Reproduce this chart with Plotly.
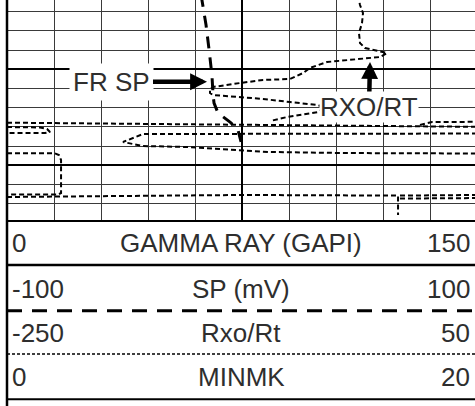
import plotly.graph_objects as go

# ---------------- data (depth in ft, curve values in track units) ----------------
sp_depth = [4002.26, 4003.30, 4005.39, 4007.99, 4010.59, 4012.68, 4013.51, 4014.55, 4015.49, 4016.32, 4017.57]
sp_mv = [-17.4, -16.6, -15.3, -14.0, -12.8, -12.3, -11.9, -10.2, -5.1, -1.7, -0.4]

rxo_depth = [4002.26, 4003.30, 4004.14, 4005.18, 4006.22, 4007.26, 4007.78, 4008.09, 4008.30, 4008.72,
             4008.93, 4009.24, 4009.86, 4010.39, 4011.01, 4011.11, 4011.43, 4011.84, 4012.05, 4012.47,
             4012.68, 4012.89, 4013.09, 4013.41, 4013.72, 4014.03, 4014.45, 4014.97, 4015.39, None,
             4015.56, 4015.80, 4015.99, None,
             4015.80, 4015.49, 4015.47, None,
             4016.01, 4016.06, 4016.22, 4016.53, 4016.64, 4016.64, None,
             4016.69, 4016.74, 4016.74, 4017.57, 4017.99, 4018.09, 4018.41, 4018.61, 4018.72, 4018.77]
rxo_ratio = [-25.96, -24.68, -22.77, -23.40, -25.32, -24.68, -21.49, -13.19, -7.45, -11.91,
             -26.60, -45.74, -56.60, -61.06, -69.36, -86.60, -101.28, -118.51, -120.43, -120.43,
             -118.51, -103.19, -86.60, -69.36, -51.49, -47.02, -51.49, -71.28, -82.13, None,
             -250.0, -101.28, 50.0, None,
             13.62, 21.28, 50.0, None,
             -250.0, -228.94, -224.47, -222.55, -225.74, -250.0, None,
             50.0, -101.28, -163.19, -175.96, -163.19, -135.11, -101.28, -83.40, -34.26, 50.0]

minmk_depth = [4018.75, 4018.75, 4018.93, 4019.45, 4022.89, 4023.04, 4023.04, None,
               4023.30, 4023.30, 4023.25, 4023.09, 4023.15, 4023.61, 4025.18, None,
               4023.09, 4023.15, None,
               4023.41, 4023.46]
minmk_val = [0.0, 2.04, 2.21, 2.30, 2.30, 2.17, 0.0, None,
             0.0, 2.26, 2.34, 9.91, 16.64, 16.64, 16.64, None,
             20.0, 16.72, None,
             20.0, 16.72]

track_names = ["GAMMA RAY (GAPI)", "SP (mV)", "Rxo/Rt", "MINMK"]
track_left = ["0", "-100", "-250", "0"]
track_right = ["150", "100", "50", "20"]
sp_scale = (-100, 100)
rxo_scale = (-250, 50)
minmk_scale = (0, 20)
depth_top, depth_bottom = 4002.78, 4025.80

# ---------------- layout geometry ----------------
W, H = 475, 406
X0 = 7            # left edge of track (px)
DIV = 47          # px per grid division
NDIV = 10
GRID_BOTTOM = 221
frac = (W - X0) / (NDIV * DIV)   # visible part of the track


def rng(lo, hi):
    return [lo, lo + (hi - lo) * frac]


def py(px):
    return 1 - px / H


def pxx(px):
    return px / W


FONT = dict(family="Liberation Sans, Arial, sans-serif", size=26, color="#2e2e2e")

fig = go.Figure()
fig.add_trace(go.Scatter(x=sp_mv, y=sp_depth, xaxis="x2", yaxis="y", mode="lines",
                         line=dict(color="black", width=3, dash="12px,9px"), name="SP"))
fig.add_trace(go.Scatter(x=rxo_ratio, y=rxo_depth, xaxis="x3", yaxis="y", mode="lines",
                         line=dict(color="black", width=2, dash="5px,3px"), name="Rxo/Rt",
                         connectgaps=False))
fig.add_trace(go.Scatter(x=minmk_val, y=minmk_depth, xaxis="x4", yaxis="y", mode="lines",
                         line=dict(color="black", width=2, dash="5px,3px"), name="MINMK",
                         connectgaps=False))

dom_x = [pxx(X0), 1]
dom_y = [py(GRID_BOTTOM), 1]
hidden = dict(visible=False, overlaying="x", domain=dom_x, anchor="y")

fig.update_layout(
    width=W, height=H, margin=dict(l=0, r=0, t=0, b=0),
    paper_bgcolor="white", plot_bgcolor="white", showlegend=False,
    xaxis=dict(domain=dom_x, range=rng(0, NDIV), tick0=0, dtick=5,
               showgrid=True, gridcolor="black", gridwidth=2,
               minor=dict(dtick=1, showgrid=True, gridcolor="#3a3a3a", gridwidth=1),
               showticklabels=False, ticks="", zeroline=False, showline=False),
    xaxis2=dict(range=rng(*sp_scale), **hidden),
    xaxis3=dict(range=rng(*rxo_scale), **hidden),
    xaxis4=dict(range=rng(*minmk_scale), **hidden),
    yaxis=dict(domain=dom_y, range=[depth_bottom, depth_top], tick0=4000, dtick=10,
               showgrid=True, gridcolor="black", gridwidth=2,
               minor=dict(dtick=2, showgrid=True, gridcolor="#3a3a3a", gridwidth=1),
               showticklabels=False, ticks="", zeroline=False, showline=False),
)

shapes = [
    dict(type="line", xref="paper", yref="paper", x0=pxx(X0), x1=pxx(X0), y0=0, y1=1,
         line=dict(color="black", width=2.5)),
    dict(type="line", xref="paper", yref="paper", x0=pxx(X0), x1=1, y0=py(GRID_BOTTOM), y1=py(GRID_BOTTOM),
         line=dict(color="black", width=2)),
    dict(type="line", xref="paper", yref="paper", x0=pxx(X0), x1=1, y0=py(265), y1=py(265),
         line=dict(color="black", width=2.5)),
    dict(type="line", xref="paper", yref="paper", x0=pxx(X0), x1=1, y0=py(310.7), y1=py(310.7),
         line=dict(color="black", width=3, dash="15px,10px")),
    dict(type="line", xref="paper", yref="paper", x0=pxx(X0), x1=1, y0=py(354), y1=py(354),
         line=dict(color="black", width=1.5, dash="3px,2px")),
    dict(type="line", xref="paper", yref="paper", x0=pxx(X0), x1=1, y0=py(399.3), y1=py(399.3),
         line=dict(color="black", width=2)),
]
fig.update_layout(shapes=shapes)

ann = []
row_y = [243, 289, 333, 377]
for name, lo, hi, yy in zip(track_names, track_left, track_right, row_y):
    ann.append(dict(xref="paper", yref="paper", x=pxx(10), y=py(yy), text=lo, showarrow=False,
                    xanchor="left", yanchor="middle", font=FONT))
    ann.append(dict(xref="paper", yref="paper", x=pxx(241), y=py(yy), text=name, showarrow=False,
                    xanchor="center", yanchor="middle", font=FONT))
    ann.append(dict(xref="paper", yref="paper", x=pxx(472), y=py(yy), text=hi, showarrow=False,
                    xanchor="right", yanchor="middle", font=FONT))

# curve labels with arrows
ann.append(dict(xref="x", yref="y", x=(207 - X0) / DIV, y=4011.29, text="FR SP", showarrow=True,
                ax=-96, ay=0, arrowhead=2, arrowsize=0.75, arrowwidth=4.5, arrowcolor="black",
                bgcolor="white", borderpad=3, font=FONT))
ann.append(dict(xref="x", yref="y", x=(370 - X0) / DIV, y=4009.24, text="RXO/RT", showarrow=True,
                ax=-1, ay=45, arrowhead=2, arrowsize=0.75, arrowwidth=4.5, arrowcolor="black",
                bgcolor="white", borderpad=0, font=FONT))
fig.update_layout(annotations=ann)

fig.write_html("out.html", config={"displayModeBar": False, "staticPlot": True},
               post_script="document.body.style.margin='0';document.body.style.overflow='hidden';")
